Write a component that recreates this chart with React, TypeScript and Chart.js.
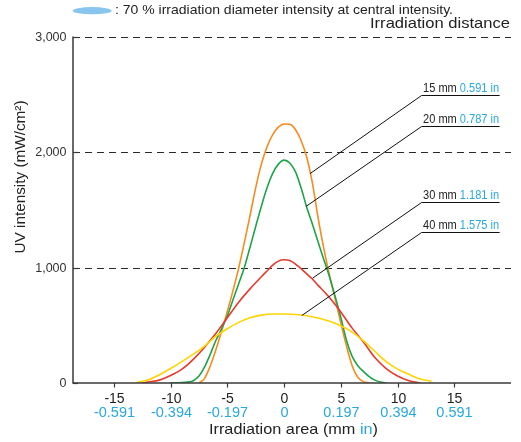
import React, { useEffect, useRef } from 'react';
import { Chart, registerables } from 'chart.js';

Chart.register(...registerables);

// ---- tick data ----
const xTicksMm = [-15, -10, -5, 0, 5, 10, 15];
const xTicksIn = ['-0.591', '-0.394', '-0.197', '0', '0.197', '0.394', '0.591'];
const yTicks = [0, 1000, 2000, 3000];
const yTickLabels = ['0', '1,000', '2,000', '3,000'];

// ---- series (x in mm, y in mW/cm²) ----
const x15 = [-7.5, -7, -6.5, -6, -5.5, -5, -4.5, -4, -3.5, -3, -2.5, -2, -1.5, -1, -0.5, 0, 0.5, 1, 1.5, 2, 2.5, 3, 3.5, 4, 4.5, 5, 5.5, 6, 6.5, 7, 7.5];
const y15 = [0, 40, 150, 290, 450, 620, 800, 995, 1215, 1450, 1690, 1895, 2045, 2150, 2215, 2243, 2240, 2195, 2100, 1955, 1730, 1430, 1165, 935, 730, 520, 320, 150, 50, 12, 0];

const x20 = [-10, -9, -8.5, -8, -7.5, -7, -6.5, -6, -5.5, -5, -4.5, -4, -3.5, -3, -2.5, -2, -1.5, -1, -0.5, 0, 0.5, 1, 1.5, 2, 2.5, 3, 3.5, 4, 4.5, 5, 5.5, 6, 6.5, 7, 7.5, 8, 8.5, 9];
const y20 = [0, 3, 8, 20, 60, 140, 250, 370, 470, 580, 720, 860, 1000, 1175, 1355, 1530, 1690, 1815, 1895, 1930, 1905, 1830, 1690, 1520, 1375, 1220, 1070, 920, 750, 570, 370, 230, 150, 100, 55, 25, 8, 0];

const x30 = [-12.5, -12, -11, -10, -9, -8, -7, -6, -5, -4, -3, -2, -1.5, -1, -0.5, 0, 0.5, 1, 1.5, 2, 2.5, 3, 3.5, 4, 4.5, 5, 6, 7, 8, 9, 10, 11, 12];
const y30 = [0, 8, 25, 65, 120, 205, 310, 430, 565, 700, 815, 920, 970, 1020, 1055, 1067, 1060, 1030, 990, 945, 900, 845, 795, 740, 680, 615, 475, 355, 220, 125, 60, 20, 0];

const x40 = [-13, -12, -11, -10, -9, -8, -7, -6, -5, -4, -3, -2, -1, 0, 1, 2, 3, 4, 5, 6, 7, 8, 9, 10, 11, 12, 13];
const y40 = [5, 25, 70, 125, 185, 250, 320, 405, 470, 525, 565, 588, 597, 597, 593, 582, 562, 535, 495, 440, 365, 275, 185, 120, 75, 35, 15];

// ---- distance labels ----
const distMm = ['15 mm', '20 mm', '30 mm', '40 mm'];
const distIn = ['0.591 in', '0.787 in', '1.181 in', '1.575 in'];
const distColors = ['#F68B1F', '#1EA34A', '#E63A2E', '#FFD400'];
// leader anchors in data units: tip on curve, label row
const leaderTipX = [2.29, 1.94, 2.52, 1.56];
const leaderTipY = [1813, 1529, 908, 584];
const labelRowY = [2492, 2223, 1567, 1304];
const labelRowX = [12.12, 19.0];

const BLUE = '#29A8E0';
const INK = '#222222';
const FONT = "'Liberation Sans', Arial, sans-serif";

type Seg = { t: string; c: string };

function drawText(
  ctx: CanvasRenderingContext2D,
  segs: Seg[],
  x: number,
  y: number,
  size: number,
  align: 'left' | 'right' | 'center',
  width?: number,
  baseline: CanvasTextBaseline = 'middle'
) {
  ctx.save();
  ctx.font = `${size}px ${FONT}`;
  ctx.textBaseline = baseline;
  ctx.textAlign = 'left';
  const ws = segs.map((s) => ctx.measureText(s.t).width);
  const total = ws.reduce((a, b) => a + b, 0);
  const sx = width ? width / total : 1;
  const w = total * sx;
  const start = align === 'left' ? x : align === 'right' ? x - w : x - w / 2;
  ctx.translate(start, y);
  ctx.scale(sx, 1);
  let cx = 0;
  segs.forEach((s, i) => {
    ctx.fillStyle = s.c;
    ctx.fillText(s.t, cx, 0);
    cx += ws[i];
  });
  ctx.restore();
}

const decor = {
  id: 'decor',
  beforeDatasetsDraw(chart: any) {
    const { ctx, chartArea: a, scales } = chart;
    const y = scales.y;
    ctx.save();
    ctx.strokeStyle = '#2a2a2a';
    ctx.lineWidth = 1.2;
    ctx.setLineDash([7, 5]);
    yTicks.forEach((v) => {
      if (v === 0) return;
      const py = Math.round(y.getPixelForValue(v)) + 0.5;
      ctx.beginPath();
      ctx.moveTo(a.left, py);
      ctx.lineTo(a.right, py);
      ctx.stroke();
    });
    ctx.restore();
  },
  afterDatasetsDraw(chart: any) {
    const { ctx, chartArea: a, scales } = chart;
    const x = scales.x;
    const y = scales.y;
    ctx.save();
    // axes
    ctx.strokeStyle = '#3a3a3a';
    ctx.lineWidth = 1.5;
    ctx.setLineDash([]);
    const y0 = y.getPixelForValue(0);
    const yTop = y.getPixelForValue(3000);
    ctx.beginPath();
    ctx.moveTo(a.left, yTop);
    ctx.lineTo(a.left, y0);
    ctx.lineTo(a.right, y0);
    ctx.stroke();
    // y ticks (inward)
    ctx.lineWidth = 1.2;
    yTicks.forEach((v, i) => {
      const py = Math.round(y.getPixelForValue(v)) + 0.5;
      ctx.beginPath();
      ctx.moveTo(a.left, py);
      ctx.lineTo(a.left + 5, py);
      ctx.stroke();
      drawText(ctx, [{ t: yTickLabels[i], c: '#333' }], a.left - 6.5, py + 0.5, 12.5, 'right');
    });
    // x ticks (outward) and labels
    xTicksMm.forEach((v, i) => {
      const px = Math.round(x.getPixelForValue(v)) + 0.5;
      ctx.beginPath();
      ctx.moveTo(px, y0);
      ctx.lineTo(px, y0 + 4.5);
      ctx.stroke();
      drawText(ctx, [{ t: String(v), c: INK }], px, y0 + 16, 14, 'center');
      drawText(ctx, [{ t: xTicksIn[i], c: BLUE }], px, y0 + 29.5, 14.5, 'center');
    });
    // axis titles
    drawText(
      ctx,
      [
        { t: 'Irradiation area (mm ', c: INK },
        { t: 'in', c: BLUE },
        { t: ')', c: INK },
      ],
      (a.left + a.right) / 2 + 1.5,
      y0 + 47,
      15,
      'center',
      169
    );
    ctx.save();
    ctx.translate(21, 177);
    ctx.rotate(-Math.PI / 2);
    drawText(ctx, [{ t: 'UV intensity (mW/cm²)', c: INK }], 0, 0, 15, 'center', 153);
    ctx.restore();

    // leader lines and distance labels
    ctx.strokeStyle = '#111';
    ctx.lineWidth = 1;
    const lx0 = x.getPixelForValue(labelRowX[0]);
    const lx1 = x.getPixelForValue(labelRowX[1]);
    distMm.forEach((m, i) => {
      const ry = Math.round(y.getPixelForValue(labelRowY[i])) + 0.5;
      const tx = x.getPixelForValue(leaderTipX[i]);
      const ty = y.getPixelForValue(leaderTipY[i]);
      ctx.beginPath();
      ctx.moveTo(tx, ty);
      ctx.lineTo(lx0, ry);
      ctx.lineTo(lx1, ry);
      ctx.stroke();
      drawText(
        ctx,
        [
          { t: m + ' ', c: INK },
          { t: distIn[i], c: BLUE },
        ],
        lx0 + 1.5,
        ry - 4,
        13,
        'left',
        76,
        'alphabetic'
      );
    });

    // top legend
    ctx.fillStyle = '#88C5EF';
    ctx.beginPath();
    ctx.ellipse(92.2, 10.7, 19.5, 3.6, 0, 0, Math.PI * 2);
    ctx.fill();
    drawText(
      ctx,
      [{ t: ': 70 % irradiation diameter intensity at central intensity.', c: INK }],
      115,
      10.5,
      13,
      'left',
      338
    );
    drawText(ctx, [{ t: 'Irradiation distance', c: INK }], 510, 24, 15, 'right', 140);
    ctx.restore();
  },
};

export default function App() {
  const ref = useRef<HTMLCanvasElement | null>(null);
  useEffect(() => {
    if (!ref.current) return;
    const series = [
      [x15, y15],
      [x20, y20],
      [x30, y30],
      [x40, y40],
    ];
    const chart = new Chart(ref.current, {
      type: 'line',
      data: {
        datasets: series
          .map(([xs, ys], i) => ({
            label: distMm[i],
            data: xs.map((v, j) => ({ x: v, y: ys[j] })),
            borderColor: distColors[i],
            backgroundColor: distColors[i],
            borderWidth: 1.6,
            fill: false,
            pointRadius: 0,
            cubicInterpolationMode: 'monotone' as const,
          }))
          .reverse(),
      },
      options: {
        responsive: false,
        animation: false,
        layout: { padding: { left: 73, right: 10, top: 36.5, bottom: 59 } },
        plugins: { legend: { display: false }, tooltip: { enabled: false } },
        scales: {
          x: { type: 'linear', min: -18.6, max: 20, display: false },
          y: { type: 'linear', min: 0, max: 3000, display: false },
        },
      },
      plugins: [decor],
    });
    return () => chart.destroy();
  }, []);
  return (
    <div style={{ position: 'absolute', left: 0, top: 0, width: 521, height: 442, background: '#fff' }}>
      <canvas ref={ref} width={521} height={442} style={{ width: 521, height: 442, display: 'block' }} />
    </div>
  );
}
